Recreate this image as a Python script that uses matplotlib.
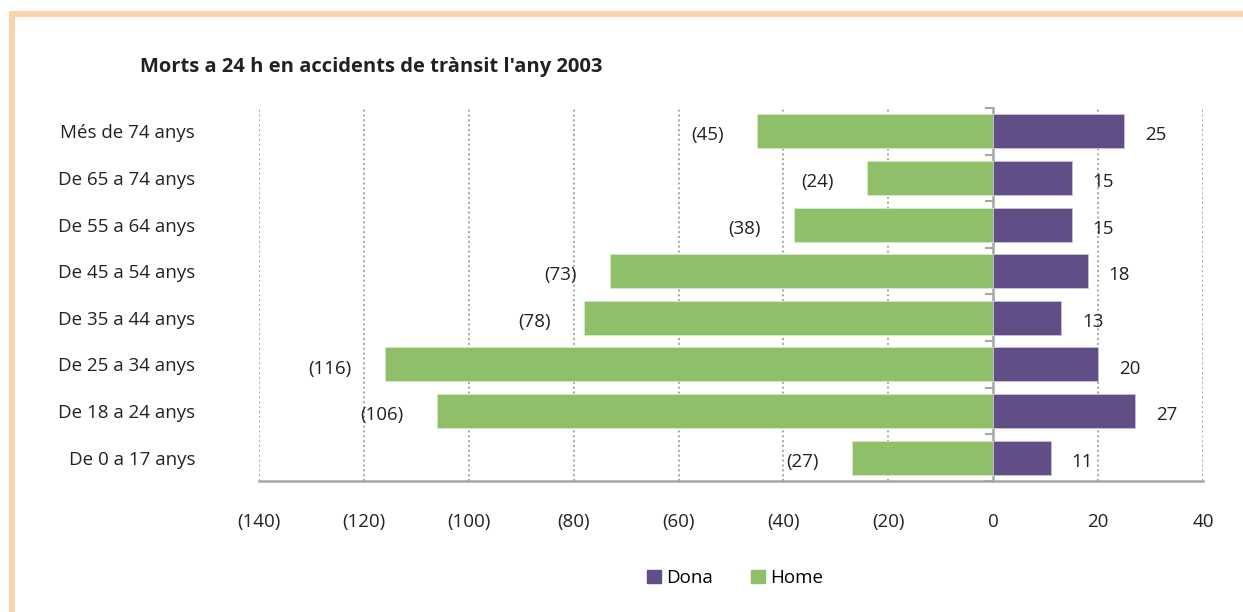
import matplotlib.pyplot as plt
import numpy as np
from matplotlib.patches import Patch, Rectangle
from matplotlib.ticker import FuncFormatter

plt.rcParams['font.family'] = ['Open Sans', 'DejaVu Sans']

# data, top row first
age_groups = ['Més de 74 anys', 'De 65 a 74 anys', 'De 55 a 64 anys', 'De 45 a 54 anys',
              'De 35 a 44 anys', 'De 25 a 34 anys', 'De 18 a 24 anys', 'De 0 a 17 anys']
home = [45, 24, 38, 73, 78, 116, 106, 27]
dona = [25, 15, 15, 18, 13, 20, 27, 11]
xticks = [-140, -120, -100, -80, -60, -40, -20, 0, 20, 40]

green = '#8fbf69'
purple = '#614e86'
grey = '#a6a6a6'
txt = '#222222'
fs = 13.5

fig = plt.figure(figsize=(12.43, 6.12), dpi=100)
ax = fig.add_axes([259 / 1243, 1 - 481 / 612, 944 / 1243, 373 / 612])

y = np.arange(len(age_groups))[::-1]
ax.barh(y, [-v for v in home], height=0.73, color=green, edgecolor='#d8e8c8', lw=0.6, zorder=3)
ax.barh(y, dona, height=0.73, color=purple, edgecolor='#c9c0dc', lw=0.6, zorder=3)

for yi, h, d in zip(y, home, dona):
    ax.annotate(f'({h})', (-h, yi), xytext=(-24, -1.5), textcoords='offset points',
                ha='right', va='center_baseline', fontsize=fs, color=txt)
    ax.annotate(f'{d}', (d, yi), xytext=(15, -1.5), textcoords='offset points',
                ha='left', va='center_baseline', fontsize=fs, color=txt)

ax.set_xlim(-140, 40)
ax.set_ylim(-0.5, len(age_groups) - 0.5)
ax.set_xticks(xticks)
ax.xaxis.set_major_formatter(FuncFormatter(lambda v, p: f'({-v:.0f})' if v < 0 else f'{v:.0f}'))
ax.tick_params(axis='x', length=0, pad=23, labelsize=fs, labelcolor=txt)
ax.set_yticks(y)
ax.set_yticklabels(age_groups)
ax.tick_params(axis='y', length=0, pad=46, labelsize=fs, labelcolor=txt)

for xv in xticks:
    if xv != 0:
        ax.axvline(xv, color=grey, ls=(0, (1, 1.5)), lw=1.4, zorder=1)

for s in ['top', 'right', 'left']:
    ax.spines[s].set_visible(False)
ax.spines['bottom'].set_color(grey)
ax.spines['bottom'].set_linewidth(1.8)

# zero axis with ticks between categories
zax = ax.secondary_yaxis(140 / 180)
zax.set_yticks(np.arange(-0.5, len(age_groups), 1.0))
zax.set_yticklabels([])
zax.yaxis.set_ticks_position('left')
zax.tick_params(length=6, width=1.5, color=grey, direction='out')
for s in zax.spines.values():
    s.set_color(grey)
    s.set_linewidth(1.8)

fig.text(140 / 1243, 1 - 67 / 612, "Morts a 24 h en accidents de trànsit l'any 2003",
         fontsize=14.5, fontweight='bold', color=txt, va='center', ha='left')

handles = [Patch(color=purple, label='Dona'), Patch(color=green, label='Home')]
fig.legend(handles=handles, loc='center', bbox_to_anchor=(735 / 1243, 1 - 578 / 612), ncol=2,
           frameon=False, fontsize=fs, handlelength=0.75, handleheight=0.75, handletextpad=0.3,
           columnspacing=2.0)

# peach frame
border = '#f8d3ad'
fig.add_artist(Rectangle((9 / 1243, 1 - 17 / 612), 1, 6 / 612, transform=fig.transFigure,
                         color=border, lw=0))
fig.add_artist(Rectangle((9 / 1243, 0), 6 / 1243, 1 - 11 / 612, transform=fig.transFigure,
                         color=border, lw=0))

fig.savefig('out.png', dpi=100)
